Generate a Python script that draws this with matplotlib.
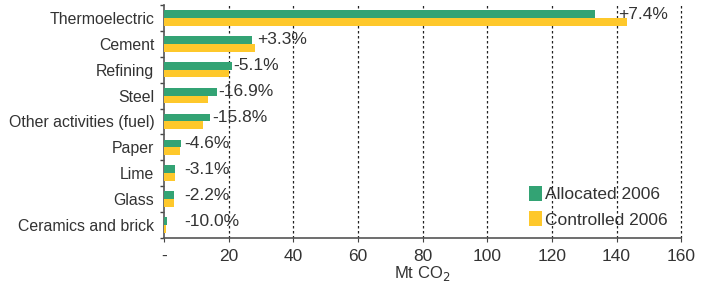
import numpy as np
import matplotlib
matplotlib.use('Agg')
import matplotlib.pyplot as plt
from matplotlib.ticker import FixedLocator

# data
sectors = ['Thermoelectric', 'Cement', 'Refining', 'Steel', 'Other activities (fuel)',
           'Paper', 'Lime', 'Glass', 'Ceramics and brick']
allocated = [133.3, 27.3, 21.0, 16.4, 14.3, 5.3, 3.4, 3.1, 0.8]
controlled = [143.2, 28.2, 20.0, 13.6, 12.0, 5.0, 3.3, 3.0, 0.75]
changes = ['+7.4%', '+3.3%', '-5.1%', '-16.9%', '-15.8%', '-4.6%', '-3.1%', '-2.2%', '-10.0%']
xticks = [0, 20, 40, 60, 80, 100, 120, 140, 160]
xticklabels = ['-', '20', '40', '60', '80', '100', '120', '140', '160']

GREEN = '#33a374'
YELLOW = '#fec82b'
TEXT = '#333333'

plt.rcParams['font.family'] = ['Liberation Sans', 'DejaVu Sans']

fig = plt.figure(figsize=(7.08, 2.85), dpi=100)
ax = fig.add_axes([0.2316, 0.165, 0.7306, 0.8175])

y = np.arange(len(sectors))
h = 0.3
ax.barh(y - h / 2, allocated, height=h, color=GREEN, label='Allocated 2006', zorder=3)
ax.barh(y + h / 2, controlled, height=h, color=YELLOW, label='Controlled 2006', zorder=3)

for i, txt in enumerate(changes):
    xpos = max(allocated[i], controlled[i]) + 0.5
    xpos = max(xpos, 6.4)
    if i == 0:
        xpos = 140.6
    ax.text(xpos, y[i] - 0.15, txt, fontsize=12.5, color=TEXT, va='center', ha='left', zorder=4)

ax.set_xlim(0, 160)
ax.set_ylim(len(sectors) - 0.5, -0.5)

ax.set_yticks(y)
ax.set_yticklabels(sectors, fontsize=11.4, color=TEXT)
ax.yaxis.set_minor_locator(FixedLocator(np.arange(-0.5, len(sectors), 1)))
ax.tick_params(axis='y', which='major', length=0, pad=7)
ax.tick_params(axis='y', which='minor', length=3, color='#444444', width=1)

ax.set_xticks(xticks)
ax.set_xticklabels(xticklabels, fontsize=12.5, color=TEXT)
ax.tick_params(axis='x', length=3, color='#444444', pad=5)

for xv in xticks[1:]:
    ax.axvline(xv, color='#222222', linestyle=(0, (2, 2)), linewidth=0.9, zorder=1, clip_on=False)

for s in ['top', 'right']:
    ax.spines[s].set_visible(False)
for s in ['left', 'bottom']:
    ax.spines[s].set_color('#555555')
    ax.spines[s].set_linewidth(1.2)

ax.set_xlabel('Mt CO$_2$', fontsize=12, color=TEXT, labelpad=0)

leg = ax.legend(loc='lower right', bbox_to_anchor=(1.0, -0.015), frameon=False, fontsize=12.5,
                handlelength=0.75, handleheight=0.95, handletextpad=0.15, labelspacing=0.5,
                borderpad=0.3)
for t in leg.get_texts():
    t.set_color(TEXT)

fig.savefig('out.png', dpi=100)
